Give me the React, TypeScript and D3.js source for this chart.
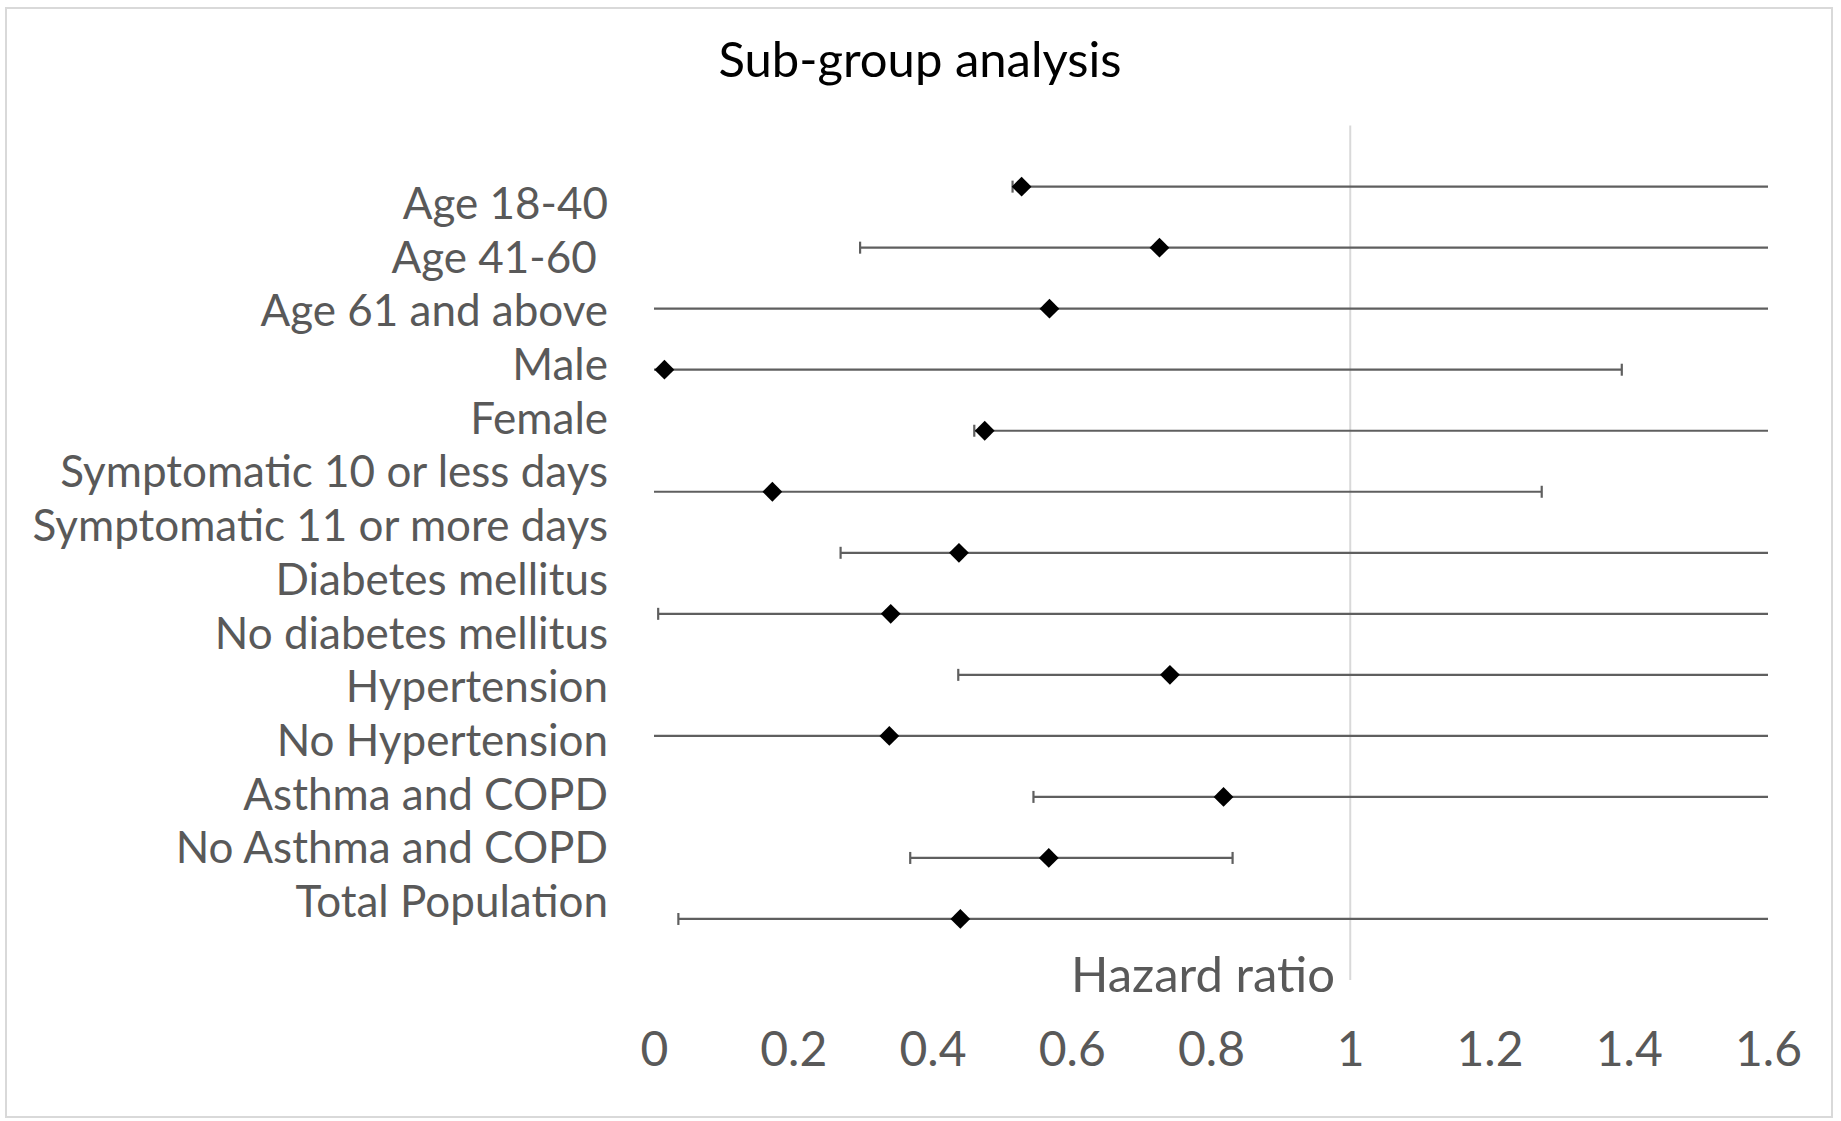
import React, { useEffect, useRef } from 'react';
import * as d3 from 'd3';

// sub-group labels (text box on the left, not tied to the rows)
const subgroupLabels = [
	'Age 18-40',
	'Age 41-60 ',
	'Age 61 and above',
	'Male',
	'Female',
	'Symptomatic 10 or less days',
	'Symptomatic 11 or more days',
	'Diabetes mellitus',
	'No diabetes mellitus',
	'Hypertension',
	'No Hypertension',
	'Asthma and COPD',
	'No Asthma and COPD',
	'Total Population',
];

// rows top to bottom; row position on the hidden y axis (0-14)
const rowPos = [13, 12, 11, 10, 9, 8, 7, 6, 5, 4, 3, 2, 1];
const hazardRatio = [0.528, 0.726, 0.568, 0.015, 0.475, 0.17, 0.438, 0.34, 0.741, 0.338, 0.818, 0.567, 0.44];
// null = bound falls off the axis
const ciLower = [0.515, 0.296, null, null, 0.46, null, 0.268, 0.006, 0.437, null, 0.545, 0.368, 0.035];
const ciUpper = [null, null, null, 1.39, null, 1.275, null, null, null, null, null, 0.831, null];

const xTicks = [0, 0.2, 0.4, 0.6, 0.8, 1, 1.2, 1.4, 1.6];

const W = 1841;
const H = 1121;
const FONT = 'Lato, "Open Sans", sans-serif';

const App = () => {
	const chartRef = useRef<SVGSVGElement>(null);

	useEffect(() => {
		document.body.style.margin = '0';
		const svg = d3.select(chartRef.current);
		svg.selectAll('*').remove();

		svg.append('rect')
			.attr('x', 6)
			.attr('y', 8)
			.attr('width', 1826)
			.attr('height', 1109)
			.attr('fill', '#fff')
			.attr('stroke', '#d9d9d9')
			.attr('stroke-width', 2);

		const x = d3.scaleLinear().domain([0, 1.6]).range([654, 1768]);
		const y = d3.scaleLinear().domain([0, 14]).range([980, 125.6]);
		const labelY = d3.scaleLinear().domain([0, subgroupLabels.length - 1]).range([219, 917]);

		svg.append('text')
			.attr('x', 920)
			.attr('y', 77)
			.attr('text-anchor', 'middle')
			.style('font-family', FONT)
			.style('font-size', '49px')
			.attr('fill', '#000')
			.text('Sub-group analysis');

		// vertical axis line at HR = 1
		svg.append('line')
			.attr('x1', x(1))
			.attr('x2', x(1))
			.attr('y1', y(0))
			.attr('y2', y(14))
			.attr('stroke', '#d9d9d9')
			.attr('stroke-width', 2);

		svg.append('g')
			.selectAll('text')
			.data(subgroupLabels)
			.join('text')
			.attr('x', 608)
			.attr('y', (d, i) => labelY(i))
			.attr('text-anchor', 'end')
			.style('white-space', 'pre')
			.style('font-family', FONT)
			.style('font-size', '44px')
			.attr('fill', '#595959')
			.text(d => d);

		const rows = hazardRatio.map((hr, i) => ({
			hr,
			pos: rowPos[i],
			lo: ciLower[i],
			hi: ciUpper[i],
		}));
		const [xMin, xMax] = x.domain();

		const bars = svg.append('g');
		rows.forEach(r => {
			const cy = y(r.pos);
			const lo = r.lo === null ? xMin : r.lo;
			const hi = r.hi === null ? xMax : r.hi;
			bars.append('line')
				.attr('x1', x(lo))
				.attr('x2', x(hi))
				.attr('y1', cy)
				.attr('y2', cy)
				.attr('stroke', '#5f5f5f')
				.attr('stroke-width', 2.2);
			[r.lo, r.hi].forEach(v => {
				if (v === null) return;
				bars.append('line')
					.attr('x1', x(v))
					.attr('x2', x(v))
					.attr('y1', cy - 6)
					.attr('y2', cy + 6)
					.attr('stroke', '#5f5f5f')
					.attr('stroke-width', 2.2);
			});
		});

		const diamond = d3.symbol().type(d3.symbolDiamond2).size(250);
		svg.append('g')
			.selectAll('path')
			.data(rows)
			.join('path')
			.attr('transform', d => `translate(${x(d.hr)},${y(d.pos)})`)
			.attr('d', diamond)
			.attr('fill', '#000');

		const axis = svg.append('g')
			.attr('transform', `translate(0,${y(0)})`)
			.call(d3.axisBottom(x).tickValues(xTicks).tickSize(0).tickFormat(d => String(d)));
		axis.select('.domain').remove();
		axis.selectAll('text')
			.attr('y', 86)
			.attr('dy', 0)
			.style('font-family', FONT)
			.style('font-size', '48px')
			.attr('fill', '#595959');

		svg.append('text')
			.attr('x', (x(0) + x(1.6)) / 2 - 8)
			.attr('y', 992)
			.attr('text-anchor', 'middle')
			.style('font-family', FONT)
			.style('font-size', '49px')
			.attr('fill', '#595959')
			.text('Hazard ratio');
	}, []);

	return <svg ref={chartRef} width={W} height={H} style={{ display: 'block' }}></svg>;
};

export default App;
